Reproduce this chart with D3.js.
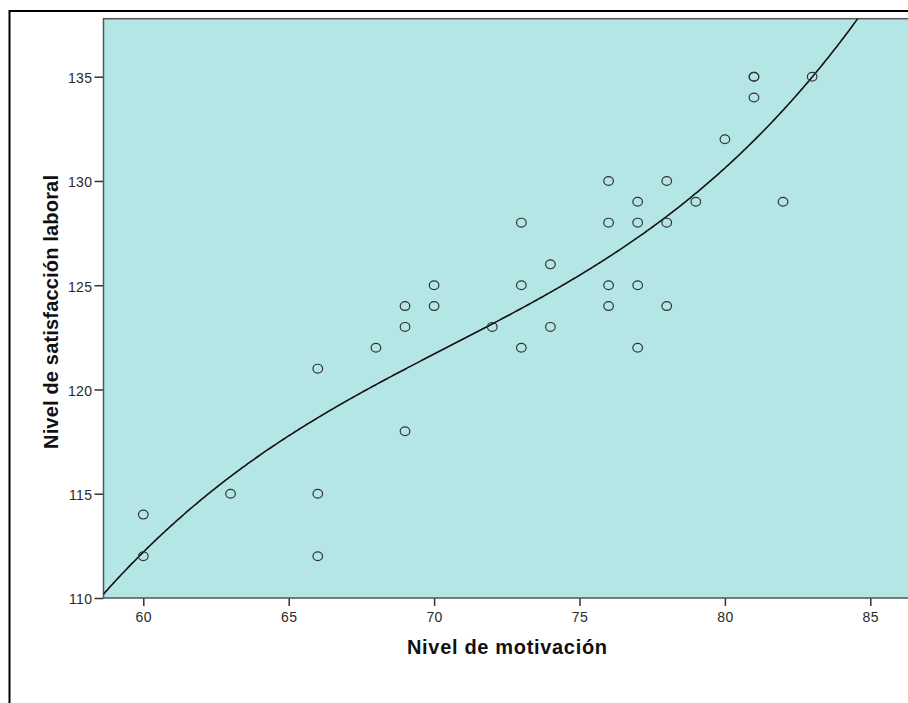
<!DOCTYPE html>
<html>
<head>
<meta charset="utf-8">
<script src="https://cdn.jsdelivr.net/npm/d3@7"></script>
<style>
  html, body { margin: 0; padding: 0; background: #fff; }
  svg { display: block; }
</style>
</head>
<body>
<svg id="chart" width="908" height="703"></svg>
<script>
// ---- data ----
const motivacion   = [60, 60, 63, 66, 66, 66, 68, 69, 69, 69, 70, 70, 72, 73, 73, 73, 74, 74, 76, 76, 76, 76, 77, 77, 77, 77, 78, 78, 78, 79, 80, 81, 81, 81, 82, 83];
const satisfaccion = [114, 112, 115, 121, 115, 112, 122, 124, 123, 118, 125, 124, 123, 128, 125, 122, 126, 123, 130, 128, 125, 124, 129, 128, 125, 122, 130, 128, 124, 129, 132, 135, 135, 134, 129, 135];
const xTicks = [60, 65, 70, 75, 80, 85];
const yTicks = [110, 115, 120, 125, 130, 135];
// cubic fit y = a + b*t + c*t^2 + d*t^3, t = x - 70
const fitCenter = 70;
const fitCoefficients = [121.7, 0.72, -0.00291, 0.002009];
const xLabel = "Nivel de motivación";
const yLabel = "Nivel de satisfacción laboral";

// ---- layout ----
const svg = d3.select("#chart");
const plot = { left: 103.5, top: 18.7, right: 916, bottom: 598 };
const FONT = "Arial, 'Liberation Sans', sans-serif";

const x = d3.scaleLinear().domain([60, 85]).range([143.3, 870.3]);
const y = d3.scaleLinear().domain([110, 135]).range([598, 76.7]);

// outer frame
svg.append("rect")
  .attr("x", 9.5).attr("y", 11).attr("width", 960).attr("height", 760)
  .attr("fill", "none").attr("stroke", "#000").attr("stroke-width", 2);

// plot background
svg.append("rect")
  .attr("x", plot.left).attr("y", plot.top)
  .attr("width", plot.right - plot.left).attr("height", plot.bottom - plot.top)
  .attr("fill", "#b4e6e6");

svg.append("defs").append("clipPath").attr("id", "clip")
  .append("rect")
  .attr("x", plot.left).attr("y", plot.top)
  .attr("width", plot.right - plot.left).attr("height", plot.bottom - plot.top);

// axes
const xAxis = d3.axisBottom(x).tickValues(xTicks).tickSize(8).tickSizeOuter(0).tickPadding(4);
const gx = svg.append("g").attr("transform", `translate(0,${plot.bottom})`).call(xAxis);
gx.select(".domain").remove();
gx.selectAll(".tick line").attr("stroke", "#333").attr("stroke-width", 1.5);
gx.selectAll(".tick text").attr("fill", "#2a2a2a").style("font-family", FONT).style("font-size", "14px")
  .attr("dy", "0.85em").style("letter-spacing", "0.4px");

const yAxis = d3.axisLeft(y).tickValues(yTicks).tickSize(9).tickSizeOuter(0).tickPadding(2);
const gy = svg.append("g").attr("transform", `translate(${plot.left},0)`).call(yAxis);
gy.select(".domain").remove();
gy.selectAll(".tick line").attr("stroke", "#333").attr("stroke-width", 1.5);
gy.selectAll(".tick text").attr("fill", "#2a2a2a").style("font-family", FONT).style("font-size", "14px")
  .attr("dy", "0.42em").style("letter-spacing", "0.4px");

// plot border
svg.append("rect")
  .attr("x", plot.left).attr("y", plot.top)
  .attr("width", plot.right - plot.left).attr("height", plot.bottom - plot.top)
  .attr("fill", "none").attr("stroke", "#555").attr("stroke-width", 1.5);

// fit line
const fit = xv => {
  const t = xv - fitCenter;
  return fitCoefficients[0] + fitCoefficients[1] * t + fitCoefficients[2] * t * t + fitCoefficients[3] * t * t * t;
};
const xs = d3.range(x.invert(plot.left), x.invert(plot.right), 0.05);
svg.append("path")
  .attr("clip-path", "url(#clip)")
  .datum(xs)
  .attr("fill", "none").attr("stroke", "#111").attr("stroke-width", 1.6)
  .attr("d", d3.line().x(d => x(d)).y(d => y(fit(d))));

// points
const pts = motivacion.map((m, i) => ({ m, s: satisfaccion[i] }));
svg.append("g").selectAll("ellipse").data(pts).join("ellipse")
  .attr("cx", d => x(d.m)).attr("cy", d => y(d.s))
  .attr("rx", 4.8).attr("ry", 4.4)
  .attr("fill", "none").attr("stroke", "#333").attr("stroke-width", 1.2);

// axis titles
svg.append("text")
  .attr("x", 507).attr("y", 654)
  .attr("text-anchor", "middle")
  .attr("textLength", 200).attr("lengthAdjust", "spacing")
  .style("font-family", FONT)
  .style("font-size", "20px").style("font-weight", "bold")
  .attr("fill", "#111")
  .text(xLabel);

svg.append("text")
  .attr("transform", "translate(58,312) rotate(-90)")
  .attr("text-anchor", "middle")
  .attr("textLength", 274).attr("lengthAdjust", "spacing")
  .style("font-family", FONT)
  .style("font-size", "20px").style("font-weight", "bold")
  .attr("fill", "#111")
  .text(yLabel);
</script>
</body>
</html>
